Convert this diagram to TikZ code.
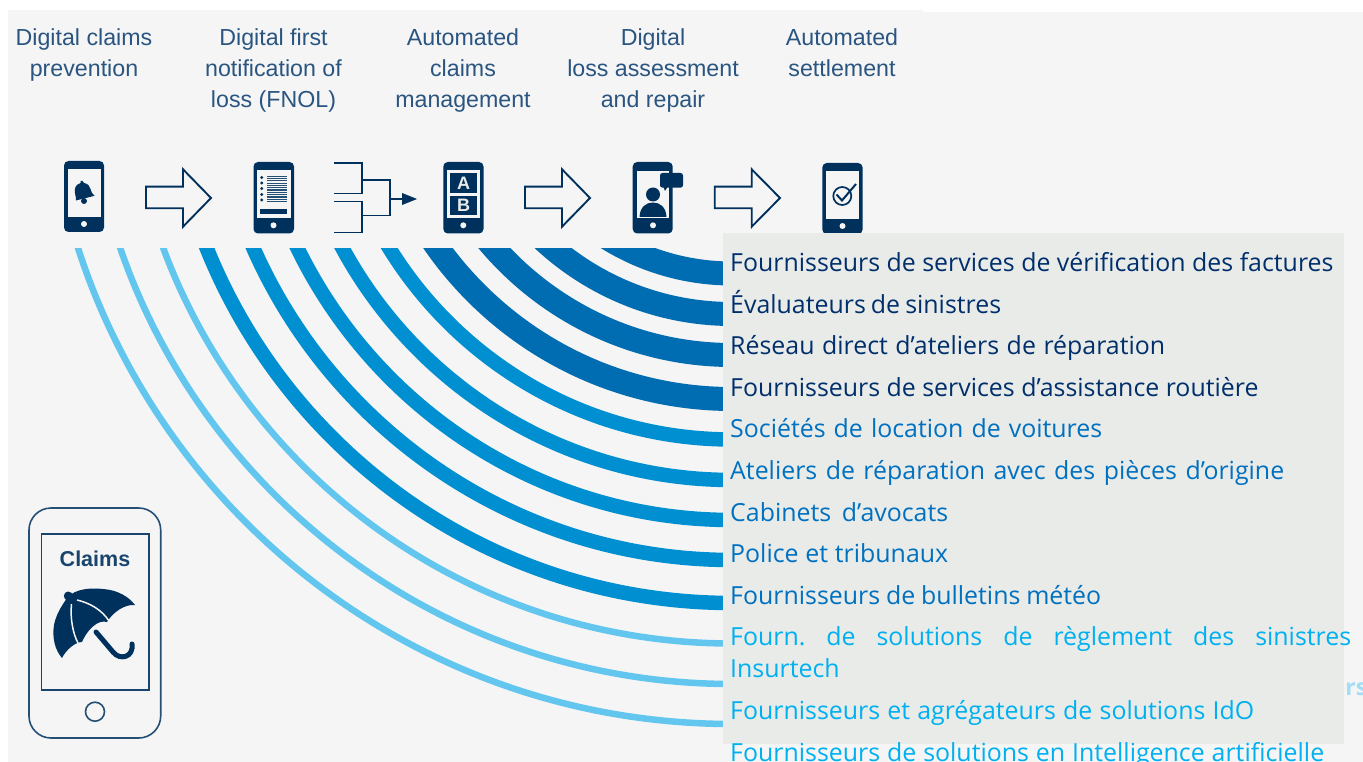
\documentclass[tikz,border=0pt]{standalone}
\usepackage{fontspec}
\setmainfont{Liberation Sans}
\newfontfamily\labelfont{Open Sans}
\frenchspacing
\newcommand\fitw[2]{\makebox[#1pt][s]{#2}}
\definecolor{navy}{HTML}{00305C}
\definecolor{bgc}{HTML}{F5F5F5}
\definecolor{panelc}{HTML}{E9EBE8}
\definecolor{darkband}{HTML}{006CB2}
\definecolor{midband}{HTML}{0090D2}
\definecolor{lightband}{HTML}{62C6EE}
\definecolor{txtdark}{HTML}{002F6C}
\definecolor{txtmid}{HTML}{0070C0}
\definecolor{txtlight}{HTML}{00B0F0}
\definecolor{headc}{HTML}{2A5580}
\tikzset{
  phonebody/.style={fill=navy,rounded corners=4.5pt},
  phonescreen/.style={fill=bgc},
  phonebutton/.style={fill=bgc},
  outlinearrow/.style={draw=navy,line width=1.9pt,fill=bgc,line join=miter,miter limit=10},
  bracketline/.style={draw=navy,line width=1.9pt},
  head/.style={anchor=north,align=center,inner sep=0pt,text=headc,font=\fontsize{23.2}{31}\selectfont},
  lab/.style={anchor=base west,inner sep=0pt,font=\labelfont\fontsize{24.9}{30}\selectfont},
  ldark/.style={lab,text=txtdark},
  lmid/.style={lab,text=txtmid},
  llight/.style={lab,text=txtlight},
}
\begin{document}
\begin{tikzpicture}[x=1pt,y=-1pt]
\useasboundingbox (0,0) rectangle (1363,762);
\clip (0,0) rectangle (1363,762);
\fill[white] (0,0) rectangle (1363,762);
\fill[bgc] (8,10) rectangle (923,762);
\fill[bgc] (923,12) rectangle (1363,762);
% headers
\node[head] (h1) at (84,28) {Digital claims\\prevention};
\node[head] (h2) at (273.5,28) {Digital first\\notification of\\loss (FNOL)};
\node[head] (h3) at (463,28) {Automated\\claims\\management};
\node[head] (h4) at (653,28) {Digital\\loss assessment\\and repair};
\node[head] (h5) at (842,28) {Automated\\settlement};
% concentric bands
\begin{scope}
\clip (0,249) rectangle (723,762);
\foreach \r/\w/\c in {236.5/24/darkband,277/24/darkband,318/24/darkband,362/24/darkband,
  402.5/14.5/midband,443/14.5/midband,483/14.5/midband,523/14.5/midband,566/14.5/midband,
  606.5/6.5/lightband,647/6.5/lightband,687/6.5/lightband}
  \draw[\c,line width=\w pt] (732,37) circle [radius=\r pt];
\end{scope}
% phone 1 : bell
\fill[phonebody] (64,161) rectangle (104,232);
\fill[phonescreen] (67.5,169) rectangle (100.5,216.7);
\fill[phonebutton] (84,224) circle [radius=3];
\fill[navy] (76,200.5) .. controls (76.5,197) and (74,193) .. (75,188.5)
  .. controls (76,185) and (78.5,183.5) .. (80.5,183) -- (80.5,181) -- (82.5,181) -- (84,183)
  .. controls (88,183.5) and (90,186.5) .. (90.5,189)
  .. controls (91.5,192) and (92,194) .. (94.5,195.8) -- cycle;
\fill[navy] (84,201) circle [radius=3];
% arrows
\draw[outlinearrow] (146,186.7) -- (183,186.7) -- (183,169.3) -- (211,198) -- (183,226.7) -- (183,208.3) -- (146,208.3) -- cycle;
\draw[outlinearrow] (525,186.7) -- (562,186.7) -- (562,169.3) -- (590,198) -- (562,226.7) -- (562,208.3) -- (525,208.3) -- cycle;
\draw[outlinearrow] (714.7,186.7) -- (751.7,186.7) -- (751.7,169.3) -- (780,198) -- (751.7,226.7) -- (751.7,208.3) -- (714.7,208.3) -- cycle;
% phone 2 : form
\fill[phonebody] (253.5,162) rectangle (294,233.5);
\fill[phonescreen] (257,170.5) rectangle (290.5,218);
\foreach \yy in {177.5,183,188.5,194.5,200} \fill[navy] (261.7,\yy) circle [radius=1.7];
\foreach \yy in {175.7,178,180.3,182.6,184.9,187.2,189.5,191.8,194.1,196.4,198.7,201}
  \fill[navy!85] (266.5,\yy) rectangle (286.5,\yy+1.2);
\fill[navy] (260,209) rectangle (286.7,214.5);
\fill[phonebutton] (273.5,225.3) circle [radius=3];
% bracket
\draw[bracketline] (334,163) -- (362,163) -- (362,193.5) -- (334,193.5);
\draw[bracketline] (334,201.5) -- (362,201.5) -- (362,232.5) -- (334,232.5);
\draw[bracketline] (362,180) -- (390,180) -- (390,215.5) -- (362,215.5);
\draw[bracketline] (390,199) -- (403,199);
\fill[navy] (402,193) -- (417,199) -- (402,205) -- cycle;
% phone 3 : A B
\fill[phonebody] (443.3,162) rectangle (483.5,233.5);
\fill[phonescreen] (447,170.5) rectangle (480,218);
\fill[navy] (450,173.5) rectangle (477,192.7);
\fill[navy] (450,196) rectangle (477,215);
\node[text=panelc,font=\bfseries\fontsize{18}{18}\selectfont,inner sep=0pt] (la) at (463.5,183) {A};
\node[text=panelc,font=\bfseries\fontsize{18}{18}\selectfont,inner sep=0pt] (lb) at (463.5,205.5) {B};
\fill[phonebutton] (463.3,225.3) circle [radius=3];
% phone 4 : person
\fill[phonebody] (632.7,162) rectangle (672.7,233.5);
\fill[phonescreen] (636.5,171) rectangle (669,218);
\fill[navy] (653,194.5) circle [radius=7];
\fill[navy] (639.5,217) .. controls (640,207) and (646,202.5) .. (653,202.5) .. controls (660,202.5) and (666,207) .. (666.5,217) -- cycle;
\fill[phonebutton] (653,225.3) circle [radius=3];
\fill[navy,rounded corners=2.5pt] (660,173) rectangle (683,187.7);
\fill[navy] (663,186) -- (668,186) -- (665,191) -- cycle;
% phone 5 : check
\fill[phonebody] (822.3,163) rectangle (862.6,234);
\fill[phonescreen] (826,171.5) rectangle (859,219);
\draw[navy,line width=1.7pt] (842.3,196) circle [radius=9];
\draw[navy,line width=2pt] (836.5,194.5) -- (842,200.5) -- (856,184);
\fill[phonebutton] (842.5,226) circle [radius=3];
% big phone
\draw[navy!85,line width=1.6pt,rounded corners=22pt] (29,508) rectangle (160.7,738);
\draw[navy!90,line width=1.5pt] (41.3,534) rectangle (149,690);
\draw[navy!85,line width=1.6pt] (95,711.7) circle [radius=9.5];
\node[text=navy!90,font=\bfseries\fontsize{21.5}{21.5}\selectfont,inner sep=0pt] (cl) at (95,558.5) {Claims};
% umbrella
\fill[navy] (65,601) .. controls (70,591) and (85,587) .. (103,589)
  .. controls (118,590) and (129,597) .. (135,605)
  .. controls (125,604) and (113,612) .. (107,622)
  .. controls (98,619) and (87,630) .. (82,642)
  .. controls (75,642) and (66,650) .. (62,658)
  .. controls (55,650) and (52,638) .. (54,625)
  .. controls (56,615) and (61,607) .. (65,601) -- cycle;
\fill[navy] (68.3,596) circle [radius=4.5];
\draw[bgc,line width=1.5pt] (71.5,604) .. controls (70,618) and (73,634) .. (78,643);
\draw[bgc,line width=1.5pt] (77,600) .. controls (90,603) and (102,610) .. (109,621);
\draw[navy,line width=5pt,line cap=round] (96,632) -- (113,652) .. controls (120,661) and (134,657) .. (132,644);
% hidden text and panel
\node[lab,text=lightband!60,font=\labelfont\bfseries\fontsize{23}{30}\selectfont] (ghost) at (1331,695) {ors};
\fill[panelc] (723,233) rectangle (1344,744);
% labels
\node[ldark] (t1) at (730,271) {Fournisseurs de services de vérification des factures};
\node[ldark] (t2) at (730,313) {\fitw{271}{Évaluateurs de sinistres}};
\node[ldark] (t3) at (730,354) {\fitw{435}{Réseau direct d’ateliers de réparation}};
\node[ldark] (t4) at (730,396) {Fournisseurs de services d’assistance routière};
\node[lmid] (t5) at (730,437) {\fitw{372}{Sociétés de location de voitures}};
\node[lmid] (t6) at (730,479) {\fitw{554}{Ateliers de réparation avec des pièces d’origine}};
\node[lmid] (t7) at (730,521) {\fitw{218}{Cabinets d’avocats}};
\node[lmid] (t8) at (730,562) {\fitw{218}{Police et tribunaux}};
\node[lmid] (t9) at (730,604) {\fitw{371}{Fournisseurs de bulletins météo}};
\node[llight] (t10) at (730,645) {\fitw{621}{Fourn. de solutions de règlement des sinistres}};
\node[llight] (t11) at (730,677) {Insurtech};
\node[llight] (t12) at (730,719) {\fitw{524}{Fournisseurs et agrégateurs de solutions IdO}};
\node[llight] (t13) at (730,761) {\fitw{594}{Fournisseurs de solutions en Intelligence artificielle}};
\end{tikzpicture}
\end{document}
